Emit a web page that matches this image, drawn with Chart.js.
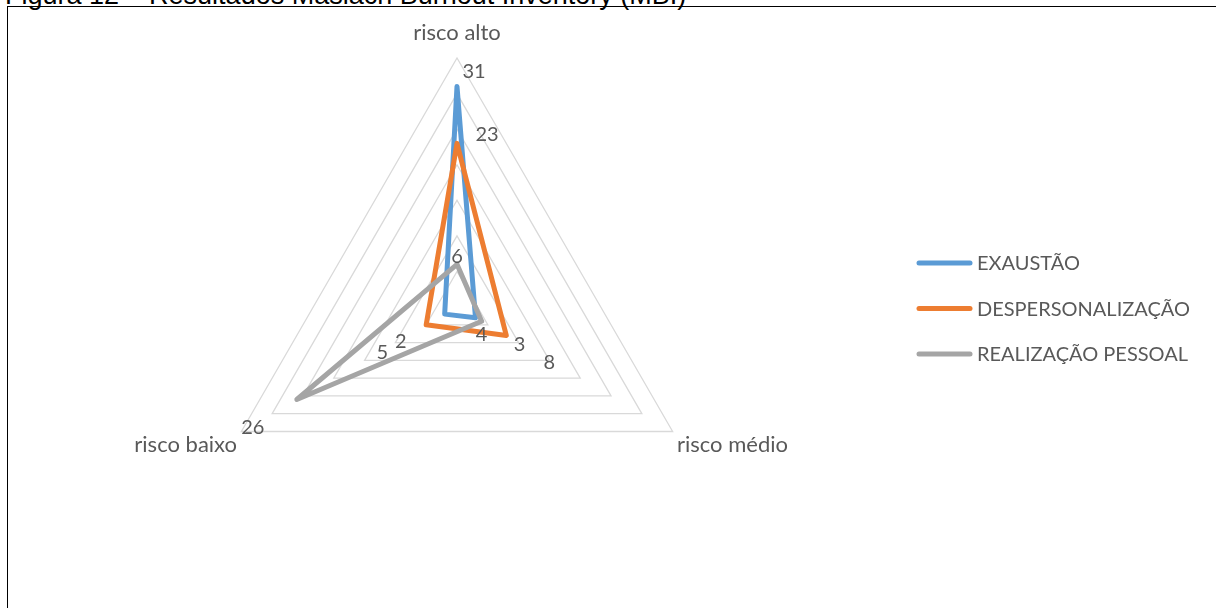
<!DOCTYPE html>
<html lang="pt">
<head>
<meta charset="utf-8">
<title>Resultados Maslach Burnout Inventory (MBI)</title>
<script src="https://cdn.jsdelivr.net/npm/chart.js@4.4.1/dist/chart.umd.min.js"></script>
<style>
  html, body { margin: 0; padding: 0; background: #fff; overflow: hidden; }
  body { width: 1216px; height: 608px; position: relative; }
  .legenda-figura {
    position: absolute; left: 5px; top: -18px;
    font: 27px "Liberation Sans", Arial, sans-serif; line-height: 1;
    white-space: nowrap; color: #000;
  }
  .moldura {
    position: absolute; left: 7px; top: 6px;
    width: 1260px; height: 660px; border: 1px solid #000;
  }
  #grafico { position: absolute; left: 0; top: 0; }
</style>
</head>
<body>
<div class="legenda-figura">Figura 12 – Resultados Maslach Burnout Inventory (MBI)</div>
<div class="moldura"></div>
<canvas id="grafico" width="1216" height="608"></canvas>
<script>
// eixos do radar
var categorias = ['risco alto', 'risco médio', 'risco baixo'];

// valores de cada dimensão do MBI
var exaustao = [31, 3, 2];
var despersonalizacao = [23, 8, 5];
var realizacaoPessoal = [6, 4, 26];

var series = ['EXAUSTÃO', 'DESPERSONALIZAÇÃO', 'REALIZAÇÃO PESSOAL'];
var cores = ['#5b9bd5', '#ed7d31', '#a5a5a5'];

var corTexto = '#595959';
var fonte = 'Lato, "Open Sans", sans-serif';

// rótulos de valor junto de cada vértice
var rotulosValores = {
    id: 'rotulosValores',
    afterDatasetsDraw: function(chart) {
        var ctx = chart.ctx;
        ctx.save();
        ctx.font = '20px ' + fonte;
        ctx.fillStyle = corTexto;
        ctx.textAlign = 'center';
        ctx.textBaseline = 'middle';
        chart.data.datasets.forEach(function(ds, i) {
            var meta = chart.getDatasetMeta(i);
            meta.data.forEach(function(pt, j) {
                var d = ds.deslocRotulo[j];
                ctx.fillText(String(ds.data[j]), pt.x + d[0], pt.y + d[1]);
            });
        });
        ctx.restore();
    }
};

// legenda com traço grosso à direita
var legendaLinhas = {
    id: 'legendaLinhas',
    afterDraw: function(chart) {
        var ctx = chart.ctx;
        var x0 = 919, x1 = 970, y0 = 263, passo = 45.5;
        ctx.save();
        ctx.font = '20px ' + fonte;
        ctx.textBaseline = 'middle';
        ctx.textAlign = 'left';
        chart.data.datasets.forEach(function(ds, i) {
            var y = y0 + i * passo;
            ctx.strokeStyle = ds.borderColor;
            ctx.lineWidth = 5;
            ctx.lineCap = 'round';
            ctx.beginPath();
            ctx.moveTo(x0, y);
            ctx.lineTo(x1, y);
            ctx.stroke();
            ctx.fillStyle = corTexto;
            ctx.fillText(ds.label, 977, y + 1);
        });
        ctx.restore();
    }
};

var ctx = document.getElementById('grafico').getContext('2d');
var chart = new Chart(ctx, {
    type: 'radar',
    data: {
        labels: categorias,
        datasets: [{
            label: series[0],
            data: exaustao,
            borderColor: cores[0],
            order: 2,
            deslocRotulo: [[17, -15], [44, 27], [-44, 27]]
        }, {
            label: series[1],
            data: despersonalizacao,
            borderColor: cores[1],
            order: 1,
            deslocRotulo: [[30, -9], [43, 27], [-44, 28]]
        }, {
            label: series[2],
            data: realizacaoPessoal,
            borderColor: cores[2],
            order: 0,
            deslocRotulo: [[0, -8], [0, 13], [-44, 28]]
        }]
    },
    options: {
        responsive: false,
        animation: false,
        devicePixelRatio: 1,
        layout: {
            padding: { top: 4, bottom: 34, left: 80, right: 382 }
        },
        elements: {
            line: { borderWidth: 5, borderJoinStyle: 'round', fill: false, tension: 0 },
            point: { radius: 0, hoverRadius: 0 }
        },
        scales: {
            r: {
                min: 0,
                max: 35,
                ticks: { display: false, stepSize: 5 },
                grid: { color: '#d9d9d9', lineWidth: 1.3 },
                angleLines: { display: false },
                pointLabels: {
                    color: corTexto,
                    font: { family: fonte, size: 22, lineHeight: 1 },
                    padding: function(c) { return c.index === 0 ? 14 : 5; }
                }
            }
        },
        plugins: {
            legend: { display: false },
            title: { display: false },
            tooltip: { enabled: false }
        }
    },
    plugins: [rotulosValores, legendaLinhas]
});
</script>
</body>
</html>
